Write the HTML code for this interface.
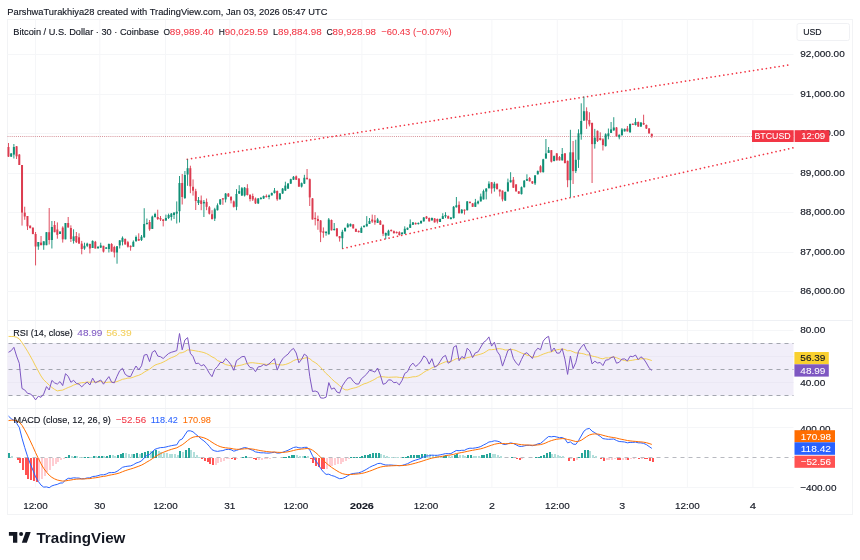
<!DOCTYPE html>
<html><head><meta charset="utf-8"><title>BTCUSD chart</title>
<style>html,body{margin:0;padding:0;background:#fff;width:860px;height:560px;overflow:hidden}
body{position:relative;font-family:"Liberation Sans", Arial, sans-serif}</style></head>
<body>
<svg width="860" height="560" viewBox="0 0 860 560" style="position:absolute;left:0;top:0"><rect x="7.5" y="19.5" width="845.0" height="495.0" fill="#fff" stroke="#f2f3f5" stroke-width="1"/><line x1="35.5" y1="19.5" x2="35.5" y2="487.5" stroke="#f5f6f8" stroke-width="1"/><line x1="99.8" y1="19.5" x2="99.8" y2="487.5" stroke="#f5f6f8" stroke-width="1"/><line x1="165.5" y1="19.5" x2="165.5" y2="487.5" stroke="#f5f6f8" stroke-width="1"/><line x1="229.8" y1="19.5" x2="229.8" y2="487.5" stroke="#f5f6f8" stroke-width="1"/><line x1="295.8" y1="19.5" x2="295.8" y2="487.5" stroke="#f5f6f8" stroke-width="1"/><line x1="361.9" y1="19.5" x2="361.9" y2="487.5" stroke="#f5f6f8" stroke-width="1"/><line x1="426.0" y1="19.5" x2="426.0" y2="487.5" stroke="#f5f6f8" stroke-width="1"/><line x1="491.9" y1="19.5" x2="491.9" y2="487.5" stroke="#f5f6f8" stroke-width="1"/><line x1="557.3" y1="19.5" x2="557.3" y2="487.5" stroke="#f5f6f8" stroke-width="1"/><line x1="622.2" y1="19.5" x2="622.2" y2="487.5" stroke="#f5f6f8" stroke-width="1"/><line x1="687.4" y1="19.5" x2="687.4" y2="487.5" stroke="#f5f6f8" stroke-width="1"/><line x1="752.9" y1="19.5" x2="752.9" y2="487.5" stroke="#f5f6f8" stroke-width="1"/><line x1="7.5" y1="291.5" x2="793.5" y2="291.5" stroke="#f5f6f8" stroke-width="1"/><line x1="7.5" y1="252.5" x2="793.5" y2="252.5" stroke="#f5f6f8" stroke-width="1"/><line x1="7.5" y1="212.5" x2="793.5" y2="212.5" stroke="#f5f6f8" stroke-width="1"/><line x1="7.5" y1="173.5" x2="793.5" y2="173.5" stroke="#f5f6f8" stroke-width="1"/><line x1="7.5" y1="133.5" x2="793.5" y2="133.5" stroke="#f5f6f8" stroke-width="1"/><line x1="7.5" y1="94.5" x2="793.5" y2="94.5" stroke="#f5f6f8" stroke-width="1"/><line x1="7.5" y1="54.5" x2="793.5" y2="54.5" stroke="#f5f6f8" stroke-width="1"/><line x1="7.5" y1="320.5" x2="852.5" y2="320.5" stroke="#eef0f4" stroke-width="1"/><line x1="7.5" y1="408.5" x2="852.5" y2="408.5" stroke="#eef0f4" stroke-width="1"/><line x1="7.5" y1="487.5" x2="793.5" y2="487.5" stroke="#f3f4f7" stroke-width="1"/><rect x="7.5" y="343.1" width="786.0" height="52.5" fill="#f1eef9"/><line x1="7.5" y1="330.5" x2="793.5" y2="330.5" stroke="#f5f6f8" stroke-width="1"/><line x1="7.5" y1="356.5" x2="793.5" y2="356.5" stroke="#ebe8f4" stroke-width="1"/><line x1="7.5" y1="382.5" x2="793.5" y2="382.5" stroke="#ebe8f4" stroke-width="1"/><line x1="7.5" y1="343.5" x2="793.5" y2="343.5" stroke="#a3a6af" stroke-width="1" stroke-dasharray="4 4" stroke-dashoffset="-1"/><line x1="7.5" y1="369.5" x2="793.5" y2="369.5" stroke="#a3a6af" stroke-width="1" stroke-dasharray="4 4" stroke-dashoffset="-1"/><line x1="7.5" y1="395.5" x2="793.5" y2="395.5" stroke="#a3a6af" stroke-width="1" stroke-dasharray="4 4" stroke-dashoffset="-1"/><line x1="7.5" y1="427.5" x2="793.5" y2="427.5" stroke="#f5f6f8" stroke-width="1"/><line x1="7.5" y1="487.5" x2="793.5" y2="487.5" stroke="#f5f6f8" stroke-width="1"/><line x1="7.5" y1="457.5" x2="793.5" y2="457.5" stroke="#b8bac1" stroke-width="1" stroke-dasharray="4 4" stroke-dashoffset="-1"/><line x1="7.5" y1="136.5" x2="793.5" y2="136.5" stroke="#c8707a" stroke-width="1" stroke-dasharray="1 1.1" opacity="0.75"/><line x1="187.3" y1="159.3" x2="791.4" y2="64.6" stroke="#f23645" stroke-width="1.7" stroke-dasharray="0.01 4.3" stroke-linecap="round"/><line x1="342.8" y1="248.5" x2="792.9" y2="147.9" stroke="#f23645" stroke-width="1.7" stroke-dasharray="0.01 4.3" stroke-linecap="round"/><g><rect x="10.72" y="153.0" width="0.9" height="4.0" fill="#0f8f76"/><rect x="10.17" y="153.5" width="2" height="3.1" fill="#0f8f76"/><rect x="13.43" y="144.0" width="0.9" height="14.5" fill="#0f8f76"/><rect x="12.88" y="147.0" width="2" height="7.6" fill="#0f8f76"/><rect x="37.86" y="242.0" width="0.9" height="7.8" fill="#0f8f76"/><rect x="37.31" y="242.0" width="2" height="4.5" fill="#0f8f76"/><rect x="43.29" y="241.3" width="0.9" height="8.5" fill="#0f8f76"/><rect x="42.74" y="241.3" width="2" height="3.9" fill="#0f8f76"/><rect x="46.01" y="232.2" width="0.9" height="13.0" fill="#0f8f76"/><rect x="45.46" y="232.2" width="2" height="13.0" fill="#0f8f76"/><rect x="51.44" y="221.0" width="0.9" height="27.5" fill="#0f8f76"/><rect x="50.89" y="227.0" width="2" height="13.0" fill="#0f8f76"/><rect x="59.58" y="231.5" width="0.9" height="2.5" fill="#0f8f76"/><rect x="59.03" y="231.5" width="2" height="2.5" fill="#0f8f76"/><rect x="65.01" y="223.0" width="0.9" height="16.3" fill="#0f8f76"/><rect x="64.46" y="223.0" width="2" height="16.3" fill="#0f8f76"/><rect x="73.15" y="229.3" width="0.9" height="14.3" fill="#0f8f76"/><rect x="72.60" y="236.4" width="2" height="4.5" fill="#0f8f76"/><rect x="84.01" y="242.7" width="0.9" height="7.1" fill="#0f8f76"/><rect x="83.46" y="245.8" width="2" height="2.7" fill="#0f8f76"/><rect x="86.73" y="242.7" width="0.9" height="4.4" fill="#0f8f76"/><rect x="86.18" y="243.6" width="2" height="2.2" fill="#0f8f76"/><rect x="92.15" y="240.4" width="0.9" height="7.6" fill="#0f8f76"/><rect x="91.60" y="240.9" width="2" height="7.1" fill="#0f8f76"/><rect x="97.58" y="246.0" width="0.9" height="3.0" fill="#0f8f76"/><rect x="97.03" y="246.9" width="2" height="1.2" fill="#0f8f76"/><rect x="100.30" y="242.7" width="0.9" height="5.3" fill="#0f8f76"/><rect x="99.75" y="245.4" width="2" height="2.2" fill="#0f8f76"/><rect x="105.73" y="247.0" width="0.9" height="2.0" fill="#0f8f76"/><rect x="105.18" y="247.5" width="2" height="1.2" fill="#0f8f76"/><rect x="108.44" y="243.5" width="0.9" height="9.0" fill="#0f8f76"/><rect x="107.89" y="244.0" width="2" height="5.0" fill="#0f8f76"/><rect x="116.58" y="246.0" width="0.9" height="17.7" fill="#0f8f76"/><rect x="116.03" y="246.3" width="2" height="6.2" fill="#0f8f76"/><rect x="119.30" y="240.0" width="0.9" height="8.5" fill="#0f8f76"/><rect x="118.75" y="240.4" width="2" height="5.0" fill="#0f8f76"/><rect x="122.01" y="236.4" width="0.9" height="9.0" fill="#0f8f76"/><rect x="121.46" y="237.8" width="2" height="4.0" fill="#0f8f76"/><rect x="132.87" y="240.4" width="0.9" height="6.3" fill="#0f8f76"/><rect x="132.32" y="241.8" width="2" height="4.9" fill="#0f8f76"/><rect x="135.59" y="235.5" width="0.9" height="6.5" fill="#0f8f76"/><rect x="135.04" y="237.0" width="2" height="4.0" fill="#0f8f76"/><rect x="141.02" y="235.0" width="0.9" height="6.0" fill="#0f8f76"/><rect x="140.47" y="236.7" width="2" height="3.4" fill="#0f8f76"/><rect x="143.73" y="208.2" width="0.9" height="29.8" fill="#0f8f76"/><rect x="143.18" y="224.0" width="2" height="13.2" fill="#0f8f76"/><rect x="146.44" y="218.5" width="0.9" height="6.0" fill="#0f8f76"/><rect x="145.89" y="222.9" width="2" height="1.2" fill="#0f8f76"/><rect x="151.87" y="215.6" width="0.9" height="13.4" fill="#0f8f76"/><rect x="151.32" y="216.6" width="2" height="12.3" fill="#0f8f76"/><rect x="154.59" y="212.7" width="0.9" height="4.9" fill="#0f8f76"/><rect x="154.04" y="214.0" width="2" height="3.0" fill="#0f8f76"/><rect x="165.45" y="214.6" width="0.9" height="6.4" fill="#0f8f76"/><rect x="164.90" y="218.0" width="2" height="2.5" fill="#0f8f76"/><rect x="168.16" y="213.6" width="0.9" height="5.4" fill="#0f8f76"/><rect x="167.61" y="215.0" width="2" height="3.0" fill="#0f8f76"/><rect x="170.88" y="213.0" width="0.9" height="7.5" fill="#0f8f76"/><rect x="170.32" y="213.6" width="2" height="3.4" fill="#0f8f76"/><rect x="173.59" y="212.0" width="0.9" height="7.0" fill="#0f8f76"/><rect x="173.04" y="212.7" width="2" height="2.3" fill="#0f8f76"/><rect x="176.30" y="201.4" width="0.9" height="22.1" fill="#0f8f76"/><rect x="175.75" y="211.7" width="2" height="1.9" fill="#0f8f76"/><rect x="179.02" y="176.0" width="0.9" height="46.5" fill="#0f8f76"/><rect x="178.47" y="183.0" width="2" height="28.2" fill="#0f8f76"/><rect x="184.45" y="171.0" width="0.9" height="28.0" fill="#0f8f76"/><rect x="183.90" y="175.0" width="2" height="23.0" fill="#0f8f76"/><rect x="187.16" y="159.3" width="0.9" height="26.5" fill="#0f8f76"/><rect x="186.61" y="168.2" width="2" height="6.3" fill="#0f8f76"/><rect x="198.02" y="197.0" width="0.9" height="8.0" fill="#0f8f76"/><rect x="197.47" y="200.0" width="2" height="3.0" fill="#0f8f76"/><rect x="203.45" y="200.0" width="0.9" height="17.0" fill="#0f8f76"/><rect x="202.90" y="201.9" width="2" height="1.5" fill="#0f8f76"/><rect x="214.31" y="207.8" width="0.9" height="13.2" fill="#0f8f76"/><rect x="213.76" y="209.3" width="2" height="9.3" fill="#0f8f76"/><rect x="217.02" y="203.4" width="0.9" height="7.1" fill="#0f8f76"/><rect x="216.47" y="205.3" width="2" height="4.9" fill="#0f8f76"/><rect x="219.74" y="199.0" width="0.9" height="6.0" fill="#0f8f76"/><rect x="219.19" y="199.4" width="2" height="4.9" fill="#0f8f76"/><rect x="225.17" y="193.0" width="0.9" height="9.4" fill="#0f8f76"/><rect x="224.62" y="193.6" width="2" height="5.8" fill="#0f8f76"/><rect x="236.02" y="189.1" width="0.9" height="21.1" fill="#0f8f76"/><rect x="235.47" y="194.0" width="2" height="12.8" fill="#0f8f76"/><rect x="238.74" y="185.2" width="0.9" height="8.8" fill="#0f8f76"/><rect x="238.19" y="191.1" width="2" height="2.5" fill="#0f8f76"/><rect x="241.45" y="187.0" width="0.9" height="9.0" fill="#0f8f76"/><rect x="240.90" y="188.2" width="2" height="7.3" fill="#0f8f76"/><rect x="244.17" y="187.0" width="0.9" height="9.5" fill="#0f8f76"/><rect x="243.62" y="187.7" width="2" height="7.8" fill="#0f8f76"/><rect x="257.74" y="198.0" width="0.9" height="6.0" fill="#0f8f76"/><rect x="257.19" y="198.5" width="2" height="4.9" fill="#0f8f76"/><rect x="260.45" y="197.0" width="0.9" height="2.5" fill="#0f8f76"/><rect x="259.90" y="197.9" width="2" height="1.2" fill="#0f8f76"/><rect x="263.17" y="195.5" width="0.9" height="3.5" fill="#0f8f76"/><rect x="262.62" y="196.0" width="2" height="2.5" fill="#0f8f76"/><rect x="268.60" y="194.5" width="0.9" height="4.8" fill="#0f8f76"/><rect x="268.05" y="195.4" width="2" height="1.6" fill="#0f8f76"/><rect x="271.31" y="192.5" width="0.9" height="3.0" fill="#0f8f76"/><rect x="270.76" y="193.0" width="2" height="2.4" fill="#0f8f76"/><rect x="274.03" y="188.0" width="0.9" height="5.5" fill="#0f8f76"/><rect x="273.48" y="190.5" width="2" height="2.5" fill="#0f8f76"/><rect x="279.46" y="193.0" width="0.9" height="6.5" fill="#0f8f76"/><rect x="278.91" y="193.5" width="2" height="5.8" fill="#0f8f76"/><rect x="282.17" y="188.0" width="0.9" height="6.0" fill="#0f8f76"/><rect x="281.62" y="188.6" width="2" height="4.9" fill="#0f8f76"/><rect x="284.88" y="181.7" width="0.9" height="9.3" fill="#0f8f76"/><rect x="284.33" y="185.6" width="2" height="4.9" fill="#0f8f76"/><rect x="287.60" y="183.0" width="0.9" height="6.0" fill="#0f8f76"/><rect x="287.05" y="183.6" width="2" height="5.0" fill="#0f8f76"/><rect x="290.31" y="178.7" width="0.9" height="5.3" fill="#0f8f76"/><rect x="289.76" y="179.2" width="2" height="4.4" fill="#0f8f76"/><rect x="293.03" y="176.0" width="0.9" height="4.0" fill="#0f8f76"/><rect x="292.48" y="176.8" width="2" height="2.9" fill="#0f8f76"/><rect x="301.17" y="182.5" width="0.9" height="5.0" fill="#0f8f76"/><rect x="300.62" y="183.2" width="2" height="3.4" fill="#0f8f76"/><rect x="303.89" y="174.8" width="0.9" height="9.2" fill="#0f8f76"/><rect x="303.34" y="177.8" width="2" height="5.8" fill="#0f8f76"/><rect x="325.60" y="231.0" width="0.9" height="4.7" fill="#0f8f76"/><rect x="325.05" y="231.9" width="2" height="1.2" fill="#0f8f76"/><rect x="328.32" y="218.0" width="0.9" height="16.5" fill="#0f8f76"/><rect x="327.77" y="219.5" width="2" height="14.8" fill="#0f8f76"/><rect x="333.75" y="223.0" width="0.9" height="7.5" fill="#0f8f76"/><rect x="333.20" y="228.9" width="2" height="1.2" fill="#0f8f76"/><rect x="341.89" y="229.8" width="0.9" height="18.7" fill="#0f8f76"/><rect x="341.34" y="231.8" width="2" height="6.4" fill="#0f8f76"/><rect x="344.60" y="227.5" width="0.9" height="4.0" fill="#0f8f76"/><rect x="344.05" y="227.9" width="2" height="3.4" fill="#0f8f76"/><rect x="347.32" y="223.0" width="0.9" height="4.5" fill="#0f8f76"/><rect x="346.77" y="224.4" width="2" height="3.0" fill="#0f8f76"/><rect x="350.03" y="223.5" width="0.9" height="3.0" fill="#0f8f76"/><rect x="349.48" y="223.9" width="2" height="2.5" fill="#0f8f76"/><rect x="360.89" y="226.4" width="0.9" height="6.6" fill="#0f8f76"/><rect x="360.34" y="227.9" width="2" height="4.9" fill="#0f8f76"/><rect x="363.60" y="225.0" width="0.9" height="2.5" fill="#0f8f76"/><rect x="363.05" y="225.9" width="2" height="1.2" fill="#0f8f76"/><rect x="366.32" y="216.1" width="0.9" height="10.4" fill="#0f8f76"/><rect x="365.77" y="223.9" width="2" height="2.5" fill="#0f8f76"/><rect x="369.03" y="218.0" width="0.9" height="6.0" fill="#0f8f76"/><rect x="368.48" y="221.0" width="2" height="2.9" fill="#0f8f76"/><rect x="377.18" y="217.9" width="0.9" height="5.1" fill="#0f8f76"/><rect x="376.63" y="219.4" width="2" height="3.5" fill="#0f8f76"/><rect x="385.32" y="232.5" width="0.9" height="6.5" fill="#0f8f76"/><rect x="384.77" y="233.0" width="2" height="2.6" fill="#0f8f76"/><rect x="388.04" y="229.7" width="0.9" height="5.9" fill="#0f8f76"/><rect x="387.49" y="230.7" width="2" height="4.9" fill="#0f8f76"/><rect x="401.61" y="232.0" width="0.9" height="2.5" fill="#0f8f76"/><rect x="401.06" y="232.7" width="2" height="1.5" fill="#0f8f76"/><rect x="404.32" y="226.3" width="0.9" height="7.7" fill="#0f8f76"/><rect x="403.77" y="228.8" width="2" height="4.9" fill="#0f8f76"/><rect x="407.04" y="227.5" width="0.9" height="2.5" fill="#0f8f76"/><rect x="406.49" y="227.8" width="2" height="1.9" fill="#0f8f76"/><rect x="409.75" y="219.4" width="0.9" height="8.6" fill="#0f8f76"/><rect x="409.20" y="224.3" width="2" height="3.5" fill="#0f8f76"/><rect x="412.47" y="222.0" width="0.9" height="3.0" fill="#0f8f76"/><rect x="411.92" y="222.4" width="2" height="2.4" fill="#0f8f76"/><rect x="417.89" y="222.5" width="0.9" height="2.0" fill="#0f8f76"/><rect x="417.34" y="222.9" width="2" height="1.2" fill="#0f8f76"/><rect x="420.61" y="220.5" width="0.9" height="3.0" fill="#0f8f76"/><rect x="420.06" y="220.9" width="2" height="2.5" fill="#0f8f76"/><rect x="423.32" y="217.0" width="0.9" height="4.5" fill="#0f8f76"/><rect x="422.77" y="217.5" width="2" height="3.9" fill="#0f8f76"/><rect x="431.47" y="217.5" width="0.9" height="3.0" fill="#0f8f76"/><rect x="430.92" y="218.0" width="2" height="2.4" fill="#0f8f76"/><rect x="439.61" y="218.5" width="0.9" height="3.5" fill="#0f8f76"/><rect x="439.06" y="219.0" width="2" height="3.0" fill="#0f8f76"/><rect x="442.33" y="213.2" width="0.9" height="5.8" fill="#0f8f76"/><rect x="441.78" y="216.1" width="2" height="2.9" fill="#0f8f76"/><rect x="445.04" y="212.2" width="0.9" height="5.9" fill="#0f8f76"/><rect x="444.49" y="215.0" width="2" height="1.5" fill="#0f8f76"/><rect x="450.47" y="217.0" width="0.9" height="2.5" fill="#0f8f76"/><rect x="449.92" y="217.6" width="2" height="1.4" fill="#0f8f76"/><rect x="453.18" y="206.0" width="0.9" height="12.5" fill="#0f8f76"/><rect x="452.63" y="206.8" width="2" height="11.3" fill="#0f8f76"/><rect x="455.90" y="197.0" width="0.9" height="10.5" fill="#0f8f76"/><rect x="455.35" y="205.3" width="2" height="2.0" fill="#0f8f76"/><rect x="461.33" y="209.0" width="0.9" height="4.5" fill="#0f8f76"/><rect x="460.78" y="209.7" width="2" height="3.5" fill="#0f8f76"/><rect x="466.76" y="201.0" width="0.9" height="9.5" fill="#0f8f76"/><rect x="466.21" y="201.4" width="2" height="8.8" fill="#0f8f76"/><rect x="474.90" y="198.9" width="0.9" height="8.1" fill="#0f8f76"/><rect x="474.35" y="202.4" width="2" height="4.4" fill="#0f8f76"/><rect x="477.61" y="200.5" width="0.9" height="3.9" fill="#0f8f76"/><rect x="477.06" y="201.4" width="2" height="2.0" fill="#0f8f76"/><rect x="480.33" y="193.6" width="0.9" height="7.9" fill="#0f8f76"/><rect x="479.78" y="196.5" width="2" height="4.9" fill="#0f8f76"/><rect x="483.04" y="189.6" width="0.9" height="9.9" fill="#0f8f76"/><rect x="482.49" y="191.1" width="2" height="8.3" fill="#0f8f76"/><rect x="485.76" y="188.0" width="0.9" height="11.4" fill="#0f8f76"/><rect x="485.21" y="188.6" width="2" height="3.0" fill="#0f8f76"/><rect x="488.47" y="181.3" width="0.9" height="7.2" fill="#0f8f76"/><rect x="487.92" y="183.7" width="2" height="4.5" fill="#0f8f76"/><rect x="493.90" y="181.8" width="0.9" height="9.8" fill="#0f8f76"/><rect x="493.35" y="183.7" width="2" height="4.5" fill="#0f8f76"/><rect x="504.76" y="191.5" width="0.9" height="9.5" fill="#0f8f76"/><rect x="504.21" y="192.0" width="2" height="8.5" fill="#0f8f76"/><rect x="507.47" y="178.6" width="0.9" height="12.9" fill="#0f8f76"/><rect x="506.92" y="182.3" width="2" height="9.1" fill="#0f8f76"/><rect x="510.19" y="172.2" width="0.9" height="10.3" fill="#0f8f76"/><rect x="509.64" y="180.2" width="2" height="2.1" fill="#0f8f76"/><rect x="521.05" y="186.5" width="0.9" height="8.0" fill="#0f8f76"/><rect x="520.50" y="187.2" width="2" height="6.9" fill="#0f8f76"/><rect x="523.76" y="180.0" width="0.9" height="7.5" fill="#0f8f76"/><rect x="523.21" y="180.7" width="2" height="6.5" fill="#0f8f76"/><rect x="526.47" y="174.3" width="0.9" height="6.7" fill="#0f8f76"/><rect x="525.92" y="179.1" width="2" height="1.6" fill="#0f8f76"/><rect x="534.62" y="175.0" width="0.9" height="10.0" fill="#0f8f76"/><rect x="534.07" y="175.4" width="2" height="8.0" fill="#0f8f76"/><rect x="537.33" y="170.5" width="0.9" height="4.0" fill="#0f8f76"/><rect x="536.78" y="171.1" width="2" height="3.2" fill="#0f8f76"/><rect x="542.76" y="158.8" width="0.9" height="13.7" fill="#0f8f76"/><rect x="542.21" y="159.3" width="2" height="12.9" fill="#0f8f76"/><rect x="545.48" y="139.0" width="0.9" height="19.8" fill="#0f8f76"/><rect x="544.93" y="153.4" width="2" height="5.1" fill="#0f8f76"/><rect x="548.19" y="147.0" width="0.9" height="6.0" fill="#0f8f76"/><rect x="547.64" y="150.2" width="2" height="2.7" fill="#0f8f76"/><rect x="553.62" y="155.5" width="0.9" height="5.9" fill="#0f8f76"/><rect x="553.07" y="156.1" width="2" height="4.9" fill="#0f8f76"/><rect x="561.76" y="148.0" width="0.9" height="12.5" fill="#0f8f76"/><rect x="561.21" y="154.0" width="2" height="6.4" fill="#0f8f76"/><rect x="569.91" y="129.8" width="0.9" height="67.5" fill="#0f8f76"/><rect x="569.36" y="152.3" width="2" height="27.9" fill="#0f8f76"/><rect x="575.34" y="139.7" width="0.9" height="33.3" fill="#0f8f76"/><rect x="574.79" y="159.8" width="2" height="11.3" fill="#0f8f76"/><rect x="578.05" y="129.3" width="0.9" height="38.6" fill="#0f8f76"/><rect x="577.50" y="133.3" width="2" height="26.5" fill="#0f8f76"/><rect x="580.76" y="103.3" width="0.9" height="36.4" fill="#0f8f76"/><rect x="580.21" y="121.0" width="2" height="13.3" fill="#0f8f76"/><rect x="583.48" y="96.5" width="0.9" height="24.5" fill="#0f8f76"/><rect x="582.93" y="111.2" width="2" height="9.3" fill="#0f8f76"/><rect x="594.34" y="128.9" width="0.9" height="19.7" fill="#0f8f76"/><rect x="593.79" y="137.7" width="2" height="6.4" fill="#0f8f76"/><rect x="605.20" y="133.3" width="0.9" height="13.2" fill="#0f8f76"/><rect x="604.65" y="134.3" width="2" height="11.8" fill="#0f8f76"/><rect x="607.91" y="128.5" width="0.9" height="10.8" fill="#0f8f76"/><rect x="607.36" y="133.4" width="2" height="2.9" fill="#0f8f76"/><rect x="610.62" y="122.0" width="0.9" height="11.0" fill="#0f8f76"/><rect x="610.07" y="129.4" width="2" height="3.5" fill="#0f8f76"/><rect x="613.34" y="117.2" width="0.9" height="13.6" fill="#0f8f76"/><rect x="612.79" y="127.5" width="2" height="2.9" fill="#0f8f76"/><rect x="618.77" y="134.3" width="0.9" height="5.0" fill="#0f8f76"/><rect x="618.22" y="134.8" width="2" height="2.5" fill="#0f8f76"/><rect x="621.48" y="128.0" width="0.9" height="7.5" fill="#0f8f76"/><rect x="620.93" y="129.4" width="2" height="5.9" fill="#0f8f76"/><rect x="624.20" y="128.5" width="0.9" height="3.0" fill="#0f8f76"/><rect x="623.65" y="129.0" width="2" height="2.4" fill="#0f8f76"/><rect x="629.63" y="123.5" width="0.9" height="9.0" fill="#0f8f76"/><rect x="629.08" y="124.0" width="2" height="8.4" fill="#0f8f76"/><rect x="635.05" y="118.2" width="0.9" height="7.3" fill="#0f8f76"/><rect x="634.50" y="122.0" width="2" height="3.0" fill="#0f8f76"/><rect x="640.48" y="122.0" width="0.9" height="5.0" fill="#0f8f76"/><rect x="639.93" y="122.6" width="2" height="3.9" fill="#0f8f76"/><rect x="8.00" y="143.0" width="0.9" height="14.0" fill="#dc3c50"/><rect x="7.45" y="147.0" width="2" height="9.6" fill="#dc3c50"/><rect x="16.15" y="146.0" width="0.9" height="13.0" fill="#dc3c50"/><rect x="15.60" y="146.3" width="2" height="10.0" fill="#dc3c50"/><rect x="18.86" y="154.0" width="0.9" height="11.0" fill="#dc3c50"/><rect x="18.31" y="154.6" width="2" height="10.4" fill="#dc3c50"/><rect x="21.58" y="165.0" width="0.9" height="60.6" fill="#dc3c50"/><rect x="21.03" y="165.0" width="2" height="47.6" fill="#dc3c50"/><rect x="24.29" y="206.7" width="0.9" height="13.1" fill="#dc3c50"/><rect x="23.74" y="212.6" width="2" height="3.9" fill="#dc3c50"/><rect x="27.01" y="216.0" width="0.9" height="14.0" fill="#dc3c50"/><rect x="26.46" y="216.0" width="2" height="10.3" fill="#dc3c50"/><rect x="29.72" y="225.6" width="0.9" height="2.6" fill="#dc3c50"/><rect x="29.17" y="225.6" width="2" height="2.6" fill="#dc3c50"/><rect x="32.44" y="227.6" width="0.9" height="6.5" fill="#dc3c50"/><rect x="31.89" y="227.6" width="2" height="6.5" fill="#dc3c50"/><rect x="35.15" y="232.0" width="0.9" height="33.4" fill="#dc3c50"/><rect x="34.60" y="234.0" width="2" height="12.5" fill="#dc3c50"/><rect x="40.58" y="236.0" width="0.9" height="9.2" fill="#dc3c50"/><rect x="40.03" y="242.6" width="2" height="2.6" fill="#dc3c50"/><rect x="48.72" y="208.0" width="0.9" height="36.5" fill="#dc3c50"/><rect x="48.17" y="232.2" width="2" height="7.8" fill="#dc3c50"/><rect x="54.15" y="221.0" width="0.9" height="11.2" fill="#dc3c50"/><rect x="53.60" y="225.0" width="2" height="7.2" fill="#dc3c50"/><rect x="56.87" y="222.4" width="0.9" height="16.3" fill="#dc3c50"/><rect x="56.32" y="229.5" width="2" height="5.3" fill="#dc3c50"/><rect x="62.30" y="226.3" width="0.9" height="16.3" fill="#dc3c50"/><rect x="61.75" y="227.6" width="2" height="11.7" fill="#dc3c50"/><rect x="67.72" y="217.0" width="0.9" height="10.5" fill="#dc3c50"/><rect x="67.17" y="223.0" width="2" height="4.5" fill="#dc3c50"/><rect x="70.44" y="225.3" width="0.9" height="16.7" fill="#dc3c50"/><rect x="69.89" y="228.0" width="2" height="11.0" fill="#dc3c50"/><rect x="75.87" y="232.0" width="0.9" height="11.0" fill="#dc3c50"/><rect x="75.32" y="236.0" width="2" height="6.2" fill="#dc3c50"/><rect x="78.58" y="233.3" width="0.9" height="10.3" fill="#dc3c50"/><rect x="78.03" y="237.3" width="2" height="6.3" fill="#dc3c50"/><rect x="81.30" y="240.9" width="0.9" height="13.4" fill="#dc3c50"/><rect x="80.75" y="243.6" width="2" height="5.4" fill="#dc3c50"/><rect x="89.44" y="243.6" width="0.9" height="9.8" fill="#dc3c50"/><rect x="88.89" y="244.0" width="2" height="4.5" fill="#dc3c50"/><rect x="94.87" y="240.9" width="0.9" height="7.6" fill="#dc3c50"/><rect x="94.32" y="241.8" width="2" height="6.7" fill="#dc3c50"/><rect x="103.01" y="245.8" width="0.9" height="6.7" fill="#dc3c50"/><rect x="102.46" y="245.8" width="2" height="5.8" fill="#dc3c50"/><rect x="111.16" y="243.1" width="0.9" height="8.5" fill="#dc3c50"/><rect x="110.61" y="244.0" width="2" height="7.6" fill="#dc3c50"/><rect x="113.87" y="245.8" width="0.9" height="11.6" fill="#dc3c50"/><rect x="113.32" y="247.0" width="2" height="5.5" fill="#dc3c50"/><rect x="124.73" y="238.4" width="0.9" height="6.1" fill="#dc3c50"/><rect x="124.18" y="239.0" width="2" height="5.5" fill="#dc3c50"/><rect x="127.44" y="240.9" width="0.9" height="6.7" fill="#dc3c50"/><rect x="126.89" y="242.2" width="2" height="4.5" fill="#dc3c50"/><rect x="130.16" y="245.4" width="0.9" height="5.3" fill="#dc3c50"/><rect x="129.61" y="245.8" width="2" height="1.4" fill="#dc3c50"/><rect x="138.30" y="233.3" width="0.9" height="7.7" fill="#dc3c50"/><rect x="137.75" y="239.0" width="2" height="1.6" fill="#dc3c50"/><rect x="149.16" y="220.0" width="0.9" height="10.8" fill="#dc3c50"/><rect x="148.61" y="222.0" width="2" height="7.3" fill="#dc3c50"/><rect x="157.30" y="209.7" width="0.9" height="10.3" fill="#dc3c50"/><rect x="156.75" y="217.0" width="2" height="2.0" fill="#dc3c50"/><rect x="160.02" y="216.0" width="0.9" height="5.0" fill="#dc3c50"/><rect x="159.47" y="218.0" width="2" height="1.5" fill="#dc3c50"/><rect x="162.73" y="219.0" width="0.9" height="7.4" fill="#dc3c50"/><rect x="162.18" y="219.5" width="2" height="1.5" fill="#dc3c50"/><rect x="181.73" y="174.0" width="0.9" height="30.5" fill="#dc3c50"/><rect x="181.18" y="183.0" width="2" height="14.0" fill="#dc3c50"/><rect x="189.88" y="165.7" width="0.9" height="27.5" fill="#dc3c50"/><rect x="189.33" y="168.2" width="2" height="18.1" fill="#dc3c50"/><rect x="192.59" y="179.4" width="0.9" height="16.2" fill="#dc3c50"/><rect x="192.04" y="186.8" width="2" height="3.9" fill="#dc3c50"/><rect x="195.31" y="188.8" width="0.9" height="21.2" fill="#dc3c50"/><rect x="194.76" y="191.2" width="2" height="9.8" fill="#dc3c50"/><rect x="200.73" y="195.5" width="0.9" height="14.7" fill="#dc3c50"/><rect x="200.18" y="200.4" width="2" height="3.5" fill="#dc3c50"/><rect x="206.16" y="198.5" width="0.9" height="11.7" fill="#dc3c50"/><rect x="205.61" y="201.9" width="2" height="4.9" fill="#dc3c50"/><rect x="208.88" y="206.0" width="0.9" height="8.5" fill="#dc3c50"/><rect x="208.33" y="207.3" width="2" height="6.4" fill="#dc3c50"/><rect x="211.59" y="210.2" width="0.9" height="9.4" fill="#dc3c50"/><rect x="211.04" y="214.2" width="2" height="4.8" fill="#dc3c50"/><rect x="222.45" y="198.0" width="0.9" height="6.8" fill="#dc3c50"/><rect x="221.90" y="198.3" width="2" height="1.2" fill="#dc3c50"/><rect x="227.88" y="193.0" width="0.9" height="4.0" fill="#dc3c50"/><rect x="227.33" y="193.6" width="2" height="2.9" fill="#dc3c50"/><rect x="230.59" y="196.0" width="0.9" height="7.4" fill="#dc3c50"/><rect x="230.04" y="197.0" width="2" height="3.4" fill="#dc3c50"/><rect x="233.31" y="200.5" width="0.9" height="7.0" fill="#dc3c50"/><rect x="232.76" y="201.4" width="2" height="5.4" fill="#dc3c50"/><rect x="246.88" y="184.2" width="0.9" height="11.3" fill="#dc3c50"/><rect x="246.33" y="188.2" width="2" height="6.8" fill="#dc3c50"/><rect x="249.60" y="194.0" width="0.9" height="7.4" fill="#dc3c50"/><rect x="249.05" y="195.0" width="2" height="4.0" fill="#dc3c50"/><rect x="252.31" y="193.6" width="0.9" height="7.4" fill="#dc3c50"/><rect x="251.76" y="196.0" width="2" height="3.5" fill="#dc3c50"/><rect x="255.02" y="197.5" width="0.9" height="6.5" fill="#dc3c50"/><rect x="254.47" y="198.5" width="2" height="4.9" fill="#dc3c50"/><rect x="265.88" y="194.4" width="0.9" height="3.1" fill="#dc3c50"/><rect x="265.33" y="195.9" width="2" height="1.2" fill="#dc3c50"/><rect x="276.74" y="190.5" width="0.9" height="10.3" fill="#dc3c50"/><rect x="276.19" y="191.0" width="2" height="8.3" fill="#dc3c50"/><rect x="295.74" y="175.5" width="0.9" height="4.5" fill="#dc3c50"/><rect x="295.19" y="176.3" width="2" height="3.4" fill="#dc3c50"/><rect x="298.46" y="178.0" width="0.9" height="9.0" fill="#dc3c50"/><rect x="297.91" y="178.7" width="2" height="7.9" fill="#dc3c50"/><rect x="306.60" y="169.0" width="0.9" height="10.5" fill="#dc3c50"/><rect x="306.05" y="177.8" width="2" height="1.4" fill="#dc3c50"/><rect x="309.31" y="178.5" width="0.9" height="27.5" fill="#dc3c50"/><rect x="308.76" y="179.2" width="2" height="18.2" fill="#dc3c50"/><rect x="312.03" y="198.0" width="0.9" height="21.5" fill="#dc3c50"/><rect x="311.48" y="198.4" width="2" height="21.1" fill="#dc3c50"/><rect x="314.74" y="212.2" width="0.9" height="13.2" fill="#dc3c50"/><rect x="314.19" y="217.9" width="2" height="1.2" fill="#dc3c50"/><rect x="317.46" y="215.6" width="0.9" height="14.2" fill="#dc3c50"/><rect x="316.91" y="219.0" width="2" height="2.0" fill="#dc3c50"/><rect x="320.17" y="220.0" width="0.9" height="22.1" fill="#dc3c50"/><rect x="319.62" y="220.5" width="2" height="11.8" fill="#dc3c50"/><rect x="322.89" y="227.4" width="0.9" height="10.3" fill="#dc3c50"/><rect x="322.34" y="231.3" width="2" height="1.5" fill="#dc3c50"/><rect x="331.03" y="219.5" width="0.9" height="11.0" fill="#dc3c50"/><rect x="330.48" y="220.0" width="2" height="10.3" fill="#dc3c50"/><rect x="336.46" y="228.0" width="0.9" height="8.5" fill="#dc3c50"/><rect x="335.91" y="228.4" width="2" height="7.8" fill="#dc3c50"/><rect x="339.17" y="236.0" width="0.9" height="5.6" fill="#dc3c50"/><rect x="338.62" y="236.2" width="2" height="2.0" fill="#dc3c50"/><rect x="352.75" y="224.0" width="0.9" height="4.5" fill="#dc3c50"/><rect x="352.20" y="224.4" width="2" height="4.0" fill="#dc3c50"/><rect x="355.46" y="228.5" width="0.9" height="3.5" fill="#dc3c50"/><rect x="354.91" y="228.9" width="2" height="2.9" fill="#dc3c50"/><rect x="358.18" y="230.5" width="0.9" height="2.0" fill="#dc3c50"/><rect x="357.63" y="230.9" width="2" height="1.2" fill="#dc3c50"/><rect x="371.75" y="214.6" width="0.9" height="8.3" fill="#dc3c50"/><rect x="371.20" y="219.5" width="2" height="2.0" fill="#dc3c50"/><rect x="374.46" y="215.0" width="0.9" height="9.8" fill="#dc3c50"/><rect x="373.91" y="220.4" width="2" height="2.0" fill="#dc3c50"/><rect x="379.89" y="220.0" width="0.9" height="5.0" fill="#dc3c50"/><rect x="379.34" y="220.9" width="2" height="3.9" fill="#dc3c50"/><rect x="382.61" y="224.5" width="0.9" height="11.6" fill="#dc3c50"/><rect x="382.06" y="224.8" width="2" height="8.9" fill="#dc3c50"/><rect x="390.75" y="229.5" width="0.9" height="2.0" fill="#dc3c50"/><rect x="390.20" y="229.9" width="2" height="1.2" fill="#dc3c50"/><rect x="393.46" y="230.5" width="0.9" height="3.0" fill="#dc3c50"/><rect x="392.91" y="231.2" width="2" height="2.0" fill="#dc3c50"/><rect x="396.18" y="231.5" width="0.9" height="2.0" fill="#dc3c50"/><rect x="395.63" y="231.9" width="2" height="1.2" fill="#dc3c50"/><rect x="398.89" y="231.2" width="0.9" height="4.3" fill="#dc3c50"/><rect x="398.34" y="232.2" width="2" height="2.9" fill="#dc3c50"/><rect x="415.18" y="222.5" width="0.9" height="2.0" fill="#dc3c50"/><rect x="414.63" y="222.9" width="2" height="1.4" fill="#dc3c50"/><rect x="426.04" y="216.0" width="0.9" height="3.0" fill="#dc3c50"/><rect x="425.49" y="216.5" width="2" height="2.0" fill="#dc3c50"/><rect x="428.75" y="217.5" width="0.9" height="4.0" fill="#dc3c50"/><rect x="428.20" y="218.0" width="2" height="3.4" fill="#dc3c50"/><rect x="434.18" y="218.0" width="0.9" height="4.5" fill="#dc3c50"/><rect x="433.63" y="218.5" width="2" height="3.9" fill="#dc3c50"/><rect x="436.90" y="218.5" width="0.9" height="4.9" fill="#dc3c50"/><rect x="436.35" y="219.0" width="2" height="2.5" fill="#dc3c50"/><rect x="447.75" y="215.5" width="0.9" height="3.1" fill="#dc3c50"/><rect x="447.20" y="216.1" width="2" height="2.5" fill="#dc3c50"/><rect x="458.61" y="201.4" width="0.9" height="12.1" fill="#dc3c50"/><rect x="458.06" y="204.8" width="2" height="8.4" fill="#dc3c50"/><rect x="464.04" y="209.5" width="0.9" height="5.1" fill="#dc3c50"/><rect x="463.49" y="209.6" width="2" height="1.2" fill="#dc3c50"/><rect x="469.47" y="201.5" width="0.9" height="2.0" fill="#dc3c50"/><rect x="468.92" y="201.8" width="2" height="1.2" fill="#dc3c50"/><rect x="472.18" y="203.0" width="0.9" height="4.0" fill="#dc3c50"/><rect x="471.63" y="203.4" width="2" height="3.4" fill="#dc3c50"/><rect x="491.19" y="182.0" width="0.9" height="11.6" fill="#dc3c50"/><rect x="490.64" y="182.3" width="2" height="6.3" fill="#dc3c50"/><rect x="496.62" y="183.5" width="0.9" height="6.0" fill="#dc3c50"/><rect x="496.07" y="183.7" width="2" height="5.4" fill="#dc3c50"/><rect x="499.33" y="189.5" width="0.9" height="7.0" fill="#dc3c50"/><rect x="498.78" y="189.6" width="2" height="2.0" fill="#dc3c50"/><rect x="502.04" y="190.5" width="0.9" height="10.9" fill="#dc3c50"/><rect x="501.49" y="190.6" width="2" height="8.8" fill="#dc3c50"/><rect x="512.90" y="177.0" width="0.9" height="11.0" fill="#dc3c50"/><rect x="512.35" y="179.7" width="2" height="8.0" fill="#dc3c50"/><rect x="515.62" y="184.0" width="0.9" height="7.5" fill="#dc3c50"/><rect x="515.07" y="184.5" width="2" height="6.9" fill="#dc3c50"/><rect x="518.33" y="191.0" width="0.9" height="3.0" fill="#dc3c50"/><rect x="517.78" y="191.4" width="2" height="2.2" fill="#dc3c50"/><rect x="529.19" y="177.0" width="0.9" height="4.5" fill="#dc3c50"/><rect x="528.64" y="178.0" width="2" height="3.3" fill="#dc3c50"/><rect x="531.90" y="181.0" width="0.9" height="3.0" fill="#dc3c50"/><rect x="531.35" y="181.3" width="2" height="2.1" fill="#dc3c50"/><rect x="540.05" y="165.2" width="0.9" height="7.3" fill="#dc3c50"/><rect x="539.50" y="166.3" width="2" height="5.9" fill="#dc3c50"/><rect x="550.90" y="150.0" width="0.9" height="12.5" fill="#dc3c50"/><rect x="550.36" y="150.2" width="2" height="11.5" fill="#dc3c50"/><rect x="556.33" y="153.0" width="0.9" height="7.5" fill="#dc3c50"/><rect x="555.78" y="153.4" width="2" height="7.0" fill="#dc3c50"/><rect x="559.05" y="156.0" width="0.9" height="4.5" fill="#dc3c50"/><rect x="558.50" y="157.1" width="2" height="3.3" fill="#dc3c50"/><rect x="564.48" y="153.0" width="0.9" height="10.5" fill="#dc3c50"/><rect x="563.93" y="153.4" width="2" height="9.6" fill="#dc3c50"/><rect x="567.19" y="160.5" width="0.9" height="26.7" fill="#dc3c50"/><rect x="566.64" y="160.9" width="2" height="19.3" fill="#dc3c50"/><rect x="572.62" y="141.0" width="0.9" height="43.0" fill="#dc3c50"/><rect x="572.07" y="152.3" width="2" height="18.8" fill="#dc3c50"/><rect x="586.19" y="107.3" width="0.9" height="21.6" fill="#dc3c50"/><rect x="585.64" y="111.2" width="2" height="9.3" fill="#dc3c50"/><rect x="588.91" y="112.2" width="0.9" height="14.2" fill="#dc3c50"/><rect x="588.36" y="120.0" width="2" height="4.4" fill="#dc3c50"/><rect x="591.62" y="122.5" width="0.9" height="60.5" fill="#dc3c50"/><rect x="591.07" y="123.0" width="2" height="21.1" fill="#dc3c50"/><rect x="597.05" y="130.5" width="0.9" height="11.5" fill="#dc3c50"/><rect x="596.50" y="130.8" width="2" height="10.3" fill="#dc3c50"/><rect x="599.77" y="132.3" width="0.9" height="8.2" fill="#dc3c50"/><rect x="599.22" y="138.0" width="2" height="2.0" fill="#dc3c50"/><rect x="602.48" y="138.2" width="0.9" height="12.3" fill="#dc3c50"/><rect x="601.93" y="139.3" width="2" height="5.8" fill="#dc3c50"/><rect x="616.05" y="127.0" width="0.9" height="9.5" fill="#dc3c50"/><rect x="615.50" y="127.5" width="2" height="8.8" fill="#dc3c50"/><rect x="626.91" y="126.0" width="0.9" height="5.5" fill="#dc3c50"/><rect x="626.36" y="128.5" width="2" height="2.9" fill="#dc3c50"/><rect x="632.34" y="123.5" width="0.9" height="1.5" fill="#dc3c50"/><rect x="631.79" y="123.7" width="2" height="1.2" fill="#dc3c50"/><rect x="637.77" y="121.5" width="0.9" height="5.5" fill="#dc3c50"/><rect x="637.22" y="122.0" width="2" height="4.5" fill="#dc3c50"/><rect x="643.20" y="114.7" width="0.9" height="10.3" fill="#dc3c50"/><rect x="642.65" y="123.0" width="2" height="1.5" fill="#dc3c50"/><rect x="645.91" y="124.5" width="0.9" height="4.5" fill="#dc3c50"/><rect x="645.36" y="125.0" width="2" height="3.5" fill="#dc3c50"/><rect x="648.63" y="128.0" width="0.9" height="5.5" fill="#dc3c50"/><rect x="648.08" y="128.5" width="2" height="4.9" fill="#dc3c50"/><rect x="651.34" y="133.5" width="0.9" height="4.3" fill="#dc3c50"/><rect x="650.79" y="133.9" width="2" height="2.1" fill="#dc3c50"/></g><polyline points="8.5,336.4 11.2,336.5 13.9,336.5 16.6,337.3 19.3,338.9 22.0,342.6 24.7,346.7 27.5,351.2 30.2,355.9 32.9,360.8 35.6,366.1 38.3,371.1 41.0,376.0 43.7,379.9 46.5,382.4 49.2,385.2 51.9,387.5 54.6,389.4 57.3,390.9 60.0,390.4 62.7,390.1 65.5,388.7 68.2,387.5 70.9,386.5 73.6,385.1 76.3,384.2 79.0,383.2 81.7,382.7 84.5,382.5 87.2,382.0 89.9,382.3 92.6,382.0 95.3,381.9 98.0,381.9 100.7,381.5 103.5,382.2 106.2,382.5 108.9,382.1 111.6,382.2 114.3,382.2 117.0,381.6 119.7,380.5 122.5,379.3 125.2,378.8 127.9,378.1 130.6,378.0 133.3,377.2 136.0,376.1 138.8,375.3 141.5,374.0 144.2,372.2 146.9,370.6 149.6,369.2 152.3,367.0 155.0,365.1 157.8,364.1 160.5,363.3 163.2,362.1 165.9,360.7 168.6,359.1 171.3,357.7 174.0,356.7 176.8,355.3 179.5,353.0 182.2,352.7 184.9,351.6 187.6,349.9 190.3,350.0 193.0,350.4 195.8,350.9 198.5,351.4 201.2,351.9 203.9,352.6 206.6,353.6 209.3,355.1 212.0,356.9 214.8,358.2 217.5,360.6 220.2,361.5 222.9,363.1 225.6,364.6 228.3,365.2 231.0,365.8 233.8,366.2 236.5,366.1 239.2,365.5 241.9,365.0 244.6,364.1 247.3,363.5 250.0,362.8 252.8,362.7 255.5,363.1 258.2,363.4 260.9,363.7 263.6,364.1 266.3,364.4 269.0,364.4 271.8,363.7 274.5,363.6 277.2,364.4 279.9,364.9 282.6,365.0 285.3,364.5 288.0,363.6 290.8,362.3 293.5,360.6 296.2,359.6 298.9,359.4 301.6,359.0 304.3,358.2 307.1,357.6 309.8,358.7 312.5,361.1 315.2,362.6 317.9,364.6 320.6,367.4 323.3,370.4 326.1,373.5 328.8,375.8 331.5,378.7 334.2,381.2 336.9,383.3 339.6,385.7 342.3,388.0 345.1,389.8 347.8,389.9 350.5,388.9 353.2,388.2 355.9,387.6 358.6,386.6 361.3,385.2 364.1,383.8 366.8,383.1 369.5,381.8 372.2,380.6 374.9,379.2 377.6,377.4 380.3,376.6 383.1,376.8 385.8,377.1 388.5,377.3 391.2,377.2 393.9,377.1 396.6,377.0 399.3,377.4 402.1,377.7 404.8,377.7 407.5,377.8 410.2,377.4 412.9,376.8 415.6,376.7 418.3,375.9 421.1,374.3 423.8,372.3 426.5,370.7 429.2,369.6 431.9,367.9 434.6,366.8 437.3,365.4 440.1,364.1 442.8,362.9 445.5,361.8 448.2,361.6 450.9,361.5 453.6,360.1 456.3,358.7 459.1,358.7 461.8,358.8 464.5,358.8 467.2,357.6 469.9,357.1 472.6,356.4 475.3,355.5 478.1,354.8 480.8,354.1 483.5,353.1 486.2,351.5 488.9,349.7 491.6,349.7 494.4,349.4 497.1,348.8 499.8,348.7 502.5,349.2 505.2,350.0 507.9,349.9 510.6,349.3 513.4,349.7 516.1,350.5 518.8,351.8 521.5,353.0 524.2,354.0 526.9,355.1 529.6,355.8 532.4,357.0 535.1,357.0 537.8,356.5 540.5,355.3 543.2,354.1 545.9,353.2 548.6,352.3 551.4,351.8 554.1,350.7 556.8,349.8 559.5,349.4 562.2,349.0 564.9,349.5 567.6,350.8 570.4,350.6 573.1,351.8 575.8,352.9 578.5,353.0 581.2,353.4 583.9,353.9 586.6,354.9 589.4,354.9 592.1,356.1 594.8,356.6 597.5,357.3 600.2,358.3 602.9,358.8 605.6,357.8 608.4,358.0 611.1,357.3 613.8,356.9 616.5,357.7 619.2,358.8 621.9,359.8 624.6,360.5 627.4,361.1 630.1,360.5 632.8,360.2 635.5,359.6 638.2,359.4 640.9,358.8 643.6,358.7 646.4,358.9 649.1,359.6 651.8,360.6" fill="none" stroke="#f4cf55" stroke-width="1" stroke-linejoin="round"/><polyline points="8.5,352.3 11.2,350.7 13.9,347.3 16.6,356.1 19.3,363.3 22.0,388.5 24.7,389.9 27.5,393.3 30.2,393.9 32.9,396.0 35.6,399.9 38.3,396.2 41.0,397.3 43.7,394.0 46.5,386.6 49.2,390.0 51.9,380.4 54.6,382.9 57.3,384.1 60.0,381.6 62.7,385.6 65.5,373.7 68.2,376.3 70.9,382.3 73.6,380.3 76.3,383.4 79.0,384.1 81.7,386.9 84.5,384.1 87.2,382.1 89.9,385.0 92.6,378.1 95.3,382.9 98.0,381.5 100.7,380.0 103.5,384.2 106.2,380.1 108.9,376.6 111.6,382.2 114.3,382.8 117.0,376.3 119.7,370.7 122.5,368.3 125.2,374.3 127.9,376.2 130.6,376.6 133.3,370.8 136.0,366.0 138.8,369.8 141.5,365.8 144.2,355.1 146.9,354.4 149.6,361.6 152.3,352.2 155.0,350.5 157.8,356.1 160.5,356.7 163.2,358.5 165.9,355.9 168.6,353.5 171.3,352.3 174.0,351.5 176.8,350.6 179.5,333.5 182.2,349.8 184.9,340.0 187.6,337.6 190.3,353.2 193.0,356.5 195.8,363.7 198.5,363.1 201.2,365.9 203.9,364.6 206.6,368.3 209.3,373.2 212.0,376.7 214.8,369.3 217.5,366.5 220.2,362.5 222.9,362.5 225.6,358.5 228.3,361.2 231.0,364.8 233.8,370.3 236.5,360.6 239.2,358.7 241.9,356.7 244.6,356.4 247.3,363.7 250.0,367.5 252.8,368.0 255.5,371.7 258.2,366.9 260.9,366.4 263.6,364.5 266.3,365.6 269.0,363.9 271.8,361.3 274.5,358.6 277.2,370.1 279.9,363.7 282.6,358.9 285.3,356.1 288.0,354.2 290.8,350.4 293.5,348.4 296.2,353.0 298.9,362.8 301.6,359.3 304.3,354.1 307.1,356.2 309.8,376.7 312.5,391.5 315.2,391.0 317.9,392.1 320.6,397.9 323.3,398.2 326.1,397.2 328.8,382.6 331.5,389.2 334.2,387.9 336.9,392.0 339.6,393.1 342.3,385.9 345.1,381.7 347.8,378.1 350.5,377.6 353.2,381.3 355.9,383.9 358.6,384.1 361.3,378.9 364.1,376.5 366.8,373.9 369.5,370.3 372.2,370.9 374.9,372.1 377.6,368.0 380.3,375.0 383.1,384.3 385.8,383.3 388.5,379.8 391.2,380.1 393.9,382.7 396.6,382.3 399.3,384.9 402.1,380.3 404.8,373.4 407.5,371.7 410.2,366.0 412.9,363.1 415.6,366.5 418.3,364.4 421.1,361.0 423.8,355.9 426.5,358.1 429.2,364.1 431.9,358.7 434.6,367.2 437.3,365.7 440.1,361.5 442.8,357.1 445.5,355.4 448.2,363.2 450.9,361.5 453.6,347.2 456.3,345.6 459.1,360.7 461.8,356.5 464.5,358.2 467.2,348.2 469.9,350.9 472.6,357.6 475.3,352.9 478.1,351.8 480.8,347.0 483.5,342.4 486.2,340.5 488.9,336.9 491.6,346.1 494.4,342.2 497.1,351.3 499.8,355.2 502.5,366.1 505.2,358.5 507.9,350.5 510.6,348.9 513.4,358.6 516.1,362.9 518.8,365.4 521.5,359.4 524.2,354.0 526.9,352.7 529.6,355.6 532.4,358.5 535.1,351.5 537.8,348.2 540.5,349.8 543.2,341.1 545.9,337.9 548.6,336.3 551.4,351.6 554.1,348.0 556.8,353.1 559.5,353.1 562.2,348.6 564.9,359.1 567.6,374.4 570.4,356.0 573.1,368.6 575.8,362.5 578.5,351.3 581.2,347.2 583.9,344.2 586.6,350.2 589.4,352.7 592.1,363.9 594.8,361.2 597.5,363.0 600.2,362.5 602.9,365.6 605.6,360.2 608.4,359.7 611.1,357.7 613.8,356.7 616.5,363.2 619.2,362.3 621.9,359.1 624.6,358.9 627.4,360.9 630.1,356.2 632.8,356.7 635.5,355.0 638.2,359.6 640.9,356.8 643.6,358.8 646.4,363.0 649.1,367.9 651.8,370.4" fill="none" stroke="#7e57c2" stroke-width="1" stroke-linejoin="round"/><g shape-rendering="crispEdges"><rect x="7.5" y="453.0" width="2" height="4.5" fill="#26a69a"/><rect x="10.5" y="456.0" width="2" height="1.5" fill="#b2dfdb"/><rect x="13.5" y="457.5" width="2" height="0.5" fill="#ff5252"/><rect x="16.5" y="457.5" width="2" height="2.5" fill="#ff5252"/><rect x="18.5" y="457.5" width="2" height="5.2" fill="#ff5252"/><rect x="21.5" y="457.5" width="2" height="12.8" fill="#ff5252"/><rect x="24.5" y="457.5" width="2" height="17.7" fill="#ff5252"/><rect x="26.5" y="457.5" width="2" height="21.2" fill="#ff5252"/><rect x="29.5" y="457.5" width="2" height="22.8" fill="#ff5252"/><rect x="32.5" y="457.5" width="2" height="23.4" fill="#ff5252"/><rect x="35.5" y="457.5" width="2" height="24.2" fill="#ff5252"/><rect x="37.5" y="457.5" width="2" height="23.0" fill="#ffcdd2"/><rect x="40.5" y="457.5" width="2" height="21.3" fill="#ffcdd2"/><rect x="43.5" y="457.5" width="2" height="18.7" fill="#ffcdd2"/><rect x="45.5" y="457.5" width="2" height="14.8" fill="#ffcdd2"/><rect x="48.5" y="457.5" width="2" height="12.4" fill="#ffcdd2"/><rect x="51.5" y="457.5" width="2" height="8.5" fill="#ffcdd2"/><rect x="54.5" y="457.5" width="2" height="6.1" fill="#ffcdd2"/><rect x="56.5" y="457.5" width="2" height="4.4" fill="#ffcdd2"/><rect x="59.5" y="457.5" width="2" height="2.5" fill="#ffcdd2"/><rect x="62.5" y="457.5" width="2" height="1.9" fill="#ffcdd2"/><rect x="64.5" y="456.7" width="2" height="0.8" fill="#26a69a"/><rect x="67.5" y="455.4" width="2" height="2.1" fill="#26a69a"/><rect x="70.5" y="455.9" width="2" height="1.6" fill="#b2dfdb"/><rect x="73.5" y="455.8" width="2" height="1.7" fill="#26a69a"/><rect x="75.5" y="456.3" width="2" height="1.2" fill="#b2dfdb"/><rect x="78.5" y="456.6" width="2" height="0.9" fill="#b2dfdb"/><rect x="81.5" y="457.4" width="2" height="0.5" fill="#b2dfdb"/><rect x="83.5" y="457.3" width="2" height="0.5" fill="#26a69a"/><rect x="86.5" y="456.7" width="2" height="0.8" fill="#26a69a"/><rect x="89.5" y="456.8" width="2" height="0.7" fill="#b2dfdb"/><rect x="92.5" y="455.8" width="2" height="1.7" fill="#26a69a"/><rect x="94.5" y="456.0" width="2" height="1.5" fill="#b2dfdb"/><rect x="97.5" y="455.9" width="2" height="1.6" fill="#26a69a"/><rect x="100.5" y="455.5" width="2" height="2.0" fill="#26a69a"/><rect x="102.5" y="455.9" width="2" height="1.6" fill="#b2dfdb"/><rect x="105.5" y="455.6" width="2" height="1.9" fill="#26a69a"/><rect x="108.5" y="454.9" width="2" height="2.6" fill="#26a69a"/><rect x="111.5" y="455.4" width="2" height="2.1" fill="#b2dfdb"/><rect x="113.5" y="455.7" width="2" height="1.8" fill="#b2dfdb"/><rect x="116.5" y="455.1" width="2" height="2.4" fill="#26a69a"/><rect x="119.5" y="454.0" width="2" height="3.5" fill="#26a69a"/><rect x="121.5" y="453.0" width="2" height="4.5" fill="#26a69a"/><rect x="124.5" y="453.3" width="2" height="4.2" fill="#b2dfdb"/><rect x="127.5" y="453.9" width="2" height="3.6" fill="#b2dfdb"/><rect x="130.5" y="454.4" width="2" height="3.1" fill="#b2dfdb"/><rect x="132.5" y="454.1" width="2" height="3.4" fill="#26a69a"/><rect x="135.5" y="453.4" width="2" height="4.1" fill="#26a69a"/><rect x="138.5" y="453.5" width="2" height="4.0" fill="#b2dfdb"/><rect x="140.5" y="453.3" width="2" height="4.2" fill="#26a69a"/><rect x="143.5" y="451.7" width="2" height="5.8" fill="#26a69a"/><rect x="146.5" y="450.9" width="2" height="6.6" fill="#26a69a"/><rect x="149.5" y="451.4" width="2" height="6.1" fill="#b2dfdb"/><rect x="151.5" y="450.5" width="2" height="7.0" fill="#26a69a"/><rect x="154.5" y="450.0" width="2" height="7.5" fill="#26a69a"/><rect x="157.5" y="450.6" width="2" height="6.9" fill="#b2dfdb"/><rect x="159.5" y="451.5" width="2" height="6.0" fill="#b2dfdb"/><rect x="162.5" y="452.6" width="2" height="4.9" fill="#b2dfdb"/><rect x="165.5" y="453.2" width="2" height="4.3" fill="#b2dfdb"/><rect x="168.5" y="453.5" width="2" height="4.0" fill="#b2dfdb"/><rect x="170.5" y="453.8" width="2" height="3.7" fill="#b2dfdb"/><rect x="173.5" y="454.1" width="2" height="3.4" fill="#b2dfdb"/><rect x="176.5" y="454.5" width="2" height="3.0" fill="#b2dfdb"/><rect x="178.5" y="451.4" width="2" height="6.1" fill="#26a69a"/><rect x="181.5" y="451.7" width="2" height="5.8" fill="#b2dfdb"/><rect x="184.5" y="449.6" width="2" height="7.9" fill="#26a69a"/><rect x="187.5" y="448.0" width="2" height="9.5" fill="#26a69a"/><rect x="189.5" y="449.8" width="2" height="7.7" fill="#b2dfdb"/><rect x="192.5" y="452.1" width="2" height="5.4" fill="#b2dfdb"/><rect x="195.5" y="455.2" width="2" height="2.3" fill="#b2dfdb"/><rect x="197.5" y="457.4" width="2" height="0.5" fill="#b2dfdb"/><rect x="200.5" y="457.5" width="2" height="1.9" fill="#ff5252"/><rect x="203.5" y="457.5" width="2" height="3.0" fill="#ff5252"/><rect x="206.5" y="457.5" width="2" height="4.3" fill="#ff5252"/><rect x="208.5" y="457.5" width="2" height="6.0" fill="#ff5252"/><rect x="211.5" y="457.5" width="2" height="7.4" fill="#ff5252"/><rect x="214.5" y="457.5" width="2" height="7.0" fill="#ffcdd2"/><rect x="216.5" y="457.5" width="2" height="5.9" fill="#ffcdd2"/><rect x="219.5" y="457.5" width="2" height="4.3" fill="#ffcdd2"/><rect x="222.5" y="457.5" width="2" height="3.2" fill="#ffcdd2"/><rect x="225.5" y="457.5" width="2" height="1.8" fill="#ffcdd2"/><rect x="227.5" y="457.5" width="2" height="1.2" fill="#ffcdd2"/><rect x="230.5" y="457.5" width="2" height="1.3" fill="#ff5252"/><rect x="233.5" y="457.5" width="2" height="2.2" fill="#ff5252"/><rect x="235.5" y="457.5" width="2" height="1.1" fill="#ffcdd2"/><rect x="238.5" y="457.5" width="2" height="0.5" fill="#ffcdd2"/><rect x="241.5" y="456.7" width="2" height="0.8" fill="#26a69a"/><rect x="244.5" y="456.2" width="2" height="1.3" fill="#26a69a"/><rect x="246.5" y="456.9" width="2" height="0.6" fill="#b2dfdb"/><rect x="249.5" y="457.5" width="2" height="0.5" fill="#ff5252"/><rect x="252.5" y="457.5" width="2" height="1.3" fill="#ff5252"/><rect x="254.5" y="457.5" width="2" height="2.2" fill="#ff5252"/><rect x="257.5" y="457.5" width="2" height="2.2" fill="#ffcdd2"/><rect x="260.5" y="457.5" width="2" height="2.1" fill="#ffcdd2"/><rect x="263.5" y="457.5" width="2" height="1.7" fill="#ffcdd2"/><rect x="265.5" y="457.5" width="2" height="1.5" fill="#ffcdd2"/><rect x="268.5" y="457.5" width="2" height="1.2" fill="#ffcdd2"/><rect x="271.5" y="457.5" width="2" height="0.7" fill="#ffcdd2"/><rect x="273.5" y="457.5" width="2" height="0.5" fill="#ffcdd2"/><rect x="276.5" y="457.5" width="2" height="0.9" fill="#ff5252"/><rect x="279.5" y="457.5" width="2" height="0.6" fill="#ffcdd2"/><rect x="282.5" y="457.4" width="2" height="0.5" fill="#26a69a"/><rect x="284.5" y="456.6" width="2" height="0.9" fill="#26a69a"/><rect x="287.5" y="456.0" width="2" height="1.5" fill="#26a69a"/><rect x="290.5" y="455.2" width="2" height="2.3" fill="#26a69a"/><rect x="292.5" y="454.6" width="2" height="2.9" fill="#26a69a"/><rect x="295.5" y="454.7" width="2" height="2.8" fill="#b2dfdb"/><rect x="298.5" y="455.9" width="2" height="1.6" fill="#b2dfdb"/><rect x="301.5" y="456.4" width="2" height="1.1" fill="#b2dfdb"/><rect x="303.5" y="456.2" width="2" height="1.3" fill="#26a69a"/><rect x="306.5" y="456.4" width="2" height="1.1" fill="#b2dfdb"/><rect x="309.5" y="457.5" width="2" height="1.3" fill="#ff5252"/><rect x="311.5" y="457.5" width="2" height="5.6" fill="#ff5252"/><rect x="314.5" y="457.5" width="2" height="8.0" fill="#ff5252"/><rect x="317.5" y="457.5" width="2" height="9.3" fill="#ff5252"/><rect x="320.5" y="457.5" width="2" height="11.1" fill="#ff5252"/><rect x="322.5" y="457.5" width="2" height="11.7" fill="#ff5252"/><rect x="325.5" y="457.5" width="2" height="11.3" fill="#ffcdd2"/><rect x="328.5" y="457.5" width="2" height="8.9" fill="#ffcdd2"/><rect x="330.5" y="457.5" width="2" height="8.2" fill="#ffcdd2"/><rect x="333.5" y="457.5" width="2" height="7.1" fill="#ffcdd2"/><rect x="336.5" y="457.5" width="2" height="6.8" fill="#ffcdd2"/><rect x="339.5" y="457.5" width="2" height="6.3" fill="#ffcdd2"/><rect x="341.5" y="457.5" width="2" height="4.8" fill="#ffcdd2"/><rect x="344.5" y="457.5" width="2" height="3.0" fill="#ffcdd2"/><rect x="347.5" y="457.5" width="2" height="1.1" fill="#ffcdd2"/><rect x="349.5" y="457.2" width="2" height="0.5" fill="#26a69a"/><rect x="352.5" y="456.7" width="2" height="0.8" fill="#26a69a"/><rect x="355.5" y="456.7" width="2" height="0.8" fill="#26a69a"/><rect x="358.5" y="456.6" width="2" height="0.9" fill="#26a69a"/><rect x="360.5" y="455.9" width="2" height="1.6" fill="#26a69a"/><rect x="363.5" y="455.2" width="2" height="2.3" fill="#26a69a"/><rect x="366.5" y="454.5" width="2" height="3.0" fill="#26a69a"/><rect x="368.5" y="453.7" width="2" height="3.8" fill="#26a69a"/><rect x="371.5" y="453.4" width="2" height="4.1" fill="#26a69a"/><rect x="374.5" y="453.3" width="2" height="4.2" fill="#26a69a"/><rect x="377.5" y="453.1" width="2" height="4.4" fill="#26a69a"/><rect x="379.5" y="453.7" width="2" height="3.8" fill="#b2dfdb"/><rect x="382.5" y="455.3" width="2" height="2.2" fill="#b2dfdb"/><rect x="385.5" y="456.3" width="2" height="1.2" fill="#b2dfdb"/><rect x="387.5" y="456.6" width="2" height="0.9" fill="#b2dfdb"/><rect x="390.5" y="456.7" width="2" height="0.8" fill="#b2dfdb"/><rect x="393.5" y="457.1" width="2" height="0.5" fill="#b2dfdb"/><rect x="396.5" y="457.2" width="2" height="0.5" fill="#b2dfdb"/><rect x="398.5" y="457.5" width="2" height="0.5" fill="#ff5252"/><rect x="401.5" y="457.3" width="2" height="0.5" fill="#26a69a"/><rect x="404.5" y="456.7" width="2" height="0.8" fill="#26a69a"/><rect x="406.5" y="456.1" width="2" height="1.4" fill="#26a69a"/><rect x="409.5" y="455.3" width="2" height="2.2" fill="#26a69a"/><rect x="412.5" y="454.7" width="2" height="2.8" fill="#26a69a"/><rect x="415.5" y="454.6" width="2" height="2.9" fill="#26a69a"/><rect x="417.5" y="454.5" width="2" height="3.0" fill="#26a69a"/><rect x="420.5" y="454.2" width="2" height="3.3" fill="#26a69a"/><rect x="423.5" y="453.8" width="2" height="3.7" fill="#26a69a"/><rect x="425.5" y="453.9" width="2" height="3.6" fill="#b2dfdb"/><rect x="428.5" y="454.4" width="2" height="3.1" fill="#b2dfdb"/><rect x="431.5" y="454.5" width="2" height="3.0" fill="#b2dfdb"/><rect x="434.5" y="455.2" width="2" height="2.3" fill="#b2dfdb"/><rect x="436.5" y="455.7" width="2" height="1.8" fill="#b2dfdb"/><rect x="439.5" y="455.8" width="2" height="1.7" fill="#b2dfdb"/><rect x="442.5" y="455.6" width="2" height="1.9" fill="#26a69a"/><rect x="444.5" y="455.4" width="2" height="2.1" fill="#26a69a"/><rect x="447.5" y="455.9" width="2" height="1.6" fill="#b2dfdb"/><rect x="450.5" y="456.2" width="2" height="1.3" fill="#b2dfdb"/><rect x="453.5" y="455.1" width="2" height="2.4" fill="#26a69a"/><rect x="455.5" y="454.4" width="2" height="3.1" fill="#26a69a"/><rect x="458.5" y="455.2" width="2" height="2.3" fill="#b2dfdb"/><rect x="461.5" y="455.4" width="2" height="2.1" fill="#b2dfdb"/><rect x="463.5" y="455.8" width="2" height="1.7" fill="#b2dfdb"/><rect x="466.5" y="455.0" width="2" height="2.5" fill="#26a69a"/><rect x="469.5" y="454.9" width="2" height="2.6" fill="#26a69a"/><rect x="472.5" y="455.5" width="2" height="2.0" fill="#b2dfdb"/><rect x="474.5" y="455.6" width="2" height="1.9" fill="#b2dfdb"/><rect x="477.5" y="455.6" width="2" height="1.9" fill="#b2dfdb"/><rect x="480.5" y="455.2" width="2" height="2.3" fill="#26a69a"/><rect x="482.5" y="454.5" width="2" height="3.0" fill="#26a69a"/><rect x="485.5" y="454.0" width="2" height="3.5" fill="#26a69a"/><rect x="488.5" y="453.4" width="2" height="4.1" fill="#26a69a"/><rect x="491.5" y="453.9" width="2" height="3.6" fill="#b2dfdb"/><rect x="493.5" y="453.9" width="2" height="3.6" fill="#b2dfdb"/><rect x="496.5" y="454.9" width="2" height="2.6" fill="#b2dfdb"/><rect x="499.5" y="456.1" width="2" height="1.4" fill="#b2dfdb"/><rect x="501.5" y="457.5" width="2" height="0.5" fill="#ff5252"/><rect x="504.5" y="457.5" width="2" height="0.9" fill="#ff5252"/><rect x="507.5" y="457.5" width="2" height="0.5" fill="#ffcdd2"/><rect x="510.5" y="456.9" width="2" height="0.6" fill="#26a69a"/><rect x="512.5" y="457.5" width="2" height="0.5" fill="#ff5252"/><rect x="515.5" y="457.5" width="2" height="1.0" fill="#ff5252"/><rect x="518.5" y="457.5" width="2" height="2.0" fill="#ff5252"/><rect x="520.5" y="457.5" width="2" height="1.8" fill="#ffcdd2"/><rect x="523.5" y="457.5" width="2" height="0.9" fill="#ffcdd2"/><rect x="526.5" y="457.5" width="2" height="0.5" fill="#ffcdd2"/><rect x="529.5" y="457.5" width="2" height="0.5" fill="#ffcdd2"/><rect x="531.5" y="457.5" width="2" height="0.5" fill="#ff5252"/><rect x="534.5" y="457.3" width="2" height="0.5" fill="#26a69a"/><rect x="537.5" y="456.5" width="2" height="1.0" fill="#26a69a"/><rect x="539.5" y="456.3" width="2" height="1.2" fill="#26a69a"/><rect x="542.5" y="454.8" width="2" height="2.7" fill="#26a69a"/><rect x="545.5" y="453.3" width="2" height="4.2" fill="#26a69a"/><rect x="548.5" y="452.4" width="2" height="5.1" fill="#26a69a"/><rect x="550.5" y="453.7" width="2" height="3.8" fill="#b2dfdb"/><rect x="553.5" y="454.1" width="2" height="3.4" fill="#b2dfdb"/><rect x="556.5" y="455.2" width="2" height="2.3" fill="#b2dfdb"/><rect x="558.5" y="456.2" width="2" height="1.3" fill="#b2dfdb"/><rect x="561.5" y="456.3" width="2" height="1.2" fill="#b2dfdb"/><rect x="564.5" y="457.5" width="2" height="0.5" fill="#ff5252"/><rect x="567.5" y="457.5" width="2" height="3.3" fill="#ff5252"/><rect x="569.5" y="457.5" width="2" height="1.9" fill="#ffcdd2"/><rect x="572.5" y="457.5" width="2" height="3.3" fill="#ff5252"/><rect x="575.5" y="457.5" width="2" height="2.8" fill="#ffcdd2"/><rect x="577.5" y="456.8" width="2" height="0.7" fill="#26a69a"/><rect x="580.5" y="453.3" width="2" height="4.2" fill="#26a69a"/><rect x="583.5" y="450.2" width="2" height="7.3" fill="#26a69a"/><rect x="586.5" y="450.0" width="2" height="7.5" fill="#26a69a"/><rect x="588.5" y="450.9" width="2" height="6.6" fill="#b2dfdb"/><rect x="591.5" y="454.5" width="2" height="3.0" fill="#b2dfdb"/><rect x="594.5" y="456.3" width="2" height="1.2" fill="#b2dfdb"/><rect x="597.5" y="457.5" width="2" height="0.6" fill="#ff5252"/><rect x="599.5" y="457.5" width="2" height="1.8" fill="#ff5252"/><rect x="602.5" y="457.5" width="2" height="3.3" fill="#ff5252"/><rect x="605.5" y="457.5" width="2" height="2.9" fill="#ffcdd2"/><rect x="607.5" y="457.5" width="2" height="2.6" fill="#ffcdd2"/><rect x="610.5" y="457.5" width="2" height="2.0" fill="#ffcdd2"/><rect x="613.5" y="457.5" width="2" height="1.5" fill="#ffcdd2"/><rect x="616.5" y="457.5" width="2" height="2.3" fill="#ff5252"/><rect x="618.5" y="457.5" width="2" height="2.7" fill="#ff5252"/><rect x="621.5" y="457.5" width="2" height="2.3" fill="#ffcdd2"/><rect x="624.5" y="457.5" width="2" height="2.1" fill="#ffcdd2"/><rect x="626.5" y="457.5" width="2" height="2.3" fill="#ff5252"/><rect x="629.5" y="457.5" width="2" height="1.5" fill="#ffcdd2"/><rect x="632.5" y="457.5" width="2" height="1.2" fill="#ffcdd2"/><rect x="635.5" y="457.5" width="2" height="0.8" fill="#ffcdd2"/><rect x="637.5" y="457.5" width="2" height="1.2" fill="#ff5252"/><rect x="640.5" y="457.5" width="2" height="1.0" fill="#ffcdd2"/><rect x="643.5" y="457.5" width="2" height="1.2" fill="#ff5252"/><rect x="645.5" y="457.5" width="2" height="1.9" fill="#ff5252"/><rect x="648.5" y="457.5" width="2" height="3.0" fill="#ff5252"/><rect x="651.5" y="457.5" width="2" height="4.0" fill="#ff5252"/></g><polyline points="8.5,416.1 11.2,418.7 13.9,420.2 16.6,423.3 19.3,427.4 22.0,438.2 24.7,447.4 27.5,456.3 30.2,463.6 32.9,470.1 35.6,476.9 38.3,481.4 41.0,485.1 43.7,487.1 46.5,486.9 49.2,487.7 51.9,485.9 54.6,485.0 57.3,484.4 60.0,483.1 62.7,482.9 65.5,480.1 68.2,478.3 70.9,478.4 73.6,477.8 76.3,478.0 79.0,478.1 81.7,478.8 84.5,478.7 87.2,477.9 89.9,477.9 92.6,476.5 95.3,476.3 98.0,475.7 100.7,474.8 103.5,474.8 106.2,474.1 108.9,472.7 111.6,472.6 114.3,472.5 117.0,471.4 119.7,469.4 122.5,467.3 125.2,466.6 127.9,466.2 130.6,465.9 133.3,464.8 136.0,463.1 138.8,462.2 141.5,460.9 144.2,457.9 146.9,455.4 149.6,454.4 152.3,451.7 155.0,449.3 157.8,448.3 160.5,447.6 163.2,447.5 165.9,447.0 168.6,446.3 171.3,445.7 174.0,445.2 176.8,444.8 179.5,440.2 182.2,439.0 184.9,434.9 187.6,430.9 190.3,430.8 193.0,431.8 195.8,434.3 198.5,436.5 201.2,439.0 203.9,440.9 206.6,443.3 209.3,446.3 212.0,449.7 214.8,450.9 217.5,451.4 220.2,450.9 222.9,450.6 225.6,449.6 228.3,449.3 231.0,449.7 233.8,451.2 236.5,450.4 239.2,449.4 241.9,448.4 244.6,447.5 247.3,448.1 250.0,449.3 252.8,450.3 255.5,451.9 258.2,452.4 260.9,452.8 263.6,452.8 266.3,453.1 269.0,453.1 271.8,452.7 274.5,452.2 277.2,453.1 279.9,453.0 282.6,452.3 285.3,451.3 288.0,450.3 290.8,448.9 293.5,447.5 296.2,447.0 298.9,447.8 301.6,448.0 304.3,447.4 307.1,447.3 309.8,450.1 312.5,455.8 315.2,460.1 317.9,463.8 320.6,468.4 323.3,471.9 326.1,474.4 328.8,474.2 331.5,475.5 334.2,476.2 336.9,477.5 339.6,478.7 342.3,478.4 345.1,477.3 347.8,475.7 350.5,474.2 353.2,473.5 355.9,473.2 358.6,472.9 361.3,471.9 364.1,470.6 366.8,469.1 369.5,467.4 372.2,466.0 374.9,465.0 377.6,463.6 380.3,463.3 383.1,464.3 385.8,465.0 388.5,465.0 391.2,465.0 393.9,465.3 396.6,465.4 399.3,465.7 402.1,465.4 404.8,464.6 407.5,463.7 410.2,462.3 412.9,461.0 415.6,460.1 418.3,459.3 421.1,458.2 423.8,456.9 426.5,456.0 429.2,455.8 431.9,455.1 434.6,455.3 437.3,455.3 440.1,454.9 442.8,454.3 445.5,453.6 448.2,453.7 450.9,453.6 453.6,452.0 456.3,450.5 459.1,450.7 461.8,450.3 464.5,450.3 467.2,448.9 469.9,448.2 472.6,448.3 475.3,447.9 478.1,447.4 480.8,446.5 483.5,445.0 486.2,443.7 488.9,442.0 491.6,441.6 494.4,440.8 497.1,441.1 499.8,441.9 502.5,444.0 505.2,444.6 507.9,443.7 510.6,442.9 513.4,443.5 516.1,444.8 518.8,446.2 521.5,446.5 524.2,445.9 526.9,445.3 529.6,445.3 532.4,445.7 535.1,445.0 537.8,443.9 540.5,443.4 543.2,441.2 545.9,438.7 548.6,436.5 551.4,436.8 554.1,436.4 556.8,437.0 559.5,437.7 562.2,437.5 564.9,438.9 567.6,442.9 570.4,441.9 573.1,444.1 575.8,444.4 578.5,440.6 581.2,436.0 583.9,431.2 586.6,429.1 589.4,428.4 592.1,431.2 594.8,432.7 597.5,434.6 600.2,436.3 602.9,438.6 605.6,439.0 608.4,439.3 611.1,439.2 613.8,439.0 616.5,440.5 619.2,441.5 621.9,441.7 624.6,442.0 627.4,442.8 630.1,442.4 632.8,442.4 635.5,442.1 638.2,442.8 640.9,442.9 643.6,443.4 646.4,444.6 649.1,446.5 651.8,448.4" fill="none" stroke="#2962ff" stroke-width="1" stroke-linejoin="round"/><polyline points="8.5,420.6 11.2,420.2 13.9,420.2 16.6,420.8 19.3,422.1 22.0,425.3 24.7,429.8 27.5,435.1 30.2,440.8 32.9,446.6 35.6,452.7 38.3,458.4 41.0,463.8 43.7,468.4 46.5,472.1 49.2,475.2 51.9,477.4 54.6,478.9 57.3,480.0 60.0,480.6 62.7,481.1 65.5,480.9 68.2,480.4 70.9,480.0 73.6,479.5 76.3,479.2 79.0,479.0 81.7,479.0 84.5,478.9 87.2,478.7 89.9,478.6 92.6,478.1 95.3,477.8 98.0,477.4 100.7,476.8 103.5,476.4 106.2,476.0 108.9,475.3 111.6,474.8 114.3,474.3 117.0,473.7 119.7,472.9 122.5,471.7 125.2,470.7 127.9,469.8 130.6,469.0 133.3,468.2 136.0,467.2 138.8,466.2 141.5,465.1 144.2,463.7 146.9,462.0 149.6,460.5 152.3,458.7 155.0,456.9 157.8,455.1 160.5,453.6 163.2,452.4 165.9,451.3 168.6,450.3 171.3,449.4 174.0,448.6 176.8,447.8 179.5,446.3 182.2,444.8 184.9,442.8 187.6,440.5 190.3,438.5 193.0,437.2 195.8,436.6 198.5,436.6 201.2,437.1 203.9,437.8 206.6,438.9 209.3,440.4 212.0,442.3 214.8,444.0 217.5,445.5 220.2,446.6 222.9,447.4 225.6,447.8 228.3,448.1 231.0,448.4 233.8,449.0 236.5,449.3 239.2,449.3 241.9,449.1 244.6,448.8 247.3,448.7 250.0,448.8 252.8,449.1 255.5,449.6 258.2,450.2 260.9,450.7 263.6,451.1 266.3,451.5 269.0,451.8 271.8,452.0 274.5,452.0 277.2,452.3 279.9,452.4 282.6,452.4 285.3,452.2 288.0,451.8 290.8,451.2 293.5,450.5 296.2,449.8 298.9,449.4 301.6,449.1 304.3,448.8 307.1,448.5 309.8,448.8 312.5,450.2 315.2,452.2 317.9,454.5 320.6,457.3 323.3,460.2 326.1,463.0 328.8,465.3 331.5,467.3 334.2,469.1 336.9,470.8 339.6,472.4 342.3,473.6 345.1,474.3 347.8,474.6 350.5,474.5 353.2,474.3 355.9,474.1 358.6,473.9 361.3,473.5 364.1,472.9 366.8,472.1 369.5,471.2 372.2,470.2 374.9,469.1 377.6,468.0 380.3,467.1 383.1,466.5 385.8,466.2 388.5,466.0 391.2,465.8 393.9,465.7 396.6,465.6 399.3,465.6 402.1,465.6 404.8,465.4 407.5,465.0 410.2,464.5 412.9,463.8 415.6,463.1 418.3,462.3 421.1,461.5 423.8,460.6 426.5,459.7 429.2,458.9 431.9,458.1 434.6,457.6 437.3,457.1 440.1,456.7 442.8,456.2 445.5,455.7 448.2,455.3 450.9,454.9 453.6,454.4 456.3,453.6 459.1,453.0 461.8,452.5 464.5,452.0 467.2,451.4 469.9,450.8 472.6,450.3 475.3,449.8 478.1,449.3 480.8,448.8 483.5,448.0 486.2,447.1 488.9,446.1 491.6,445.2 494.4,444.3 497.1,443.7 499.8,443.3 502.5,443.5 505.2,443.7 507.9,443.7 510.6,443.5 513.4,443.5 516.1,443.8 518.8,444.3 521.5,444.7 524.2,444.9 526.9,445.0 529.6,445.1 532.4,445.2 535.1,445.2 537.8,444.9 540.5,444.6 543.2,443.9 545.9,442.9 548.6,441.6 551.4,440.6 554.1,439.8 556.8,439.2 559.5,438.9 562.2,438.6 564.9,438.7 567.6,439.5 570.4,440.0 573.1,440.8 575.8,441.5 578.5,441.3 581.2,440.3 583.9,438.5 586.6,436.6 589.4,435.0 592.1,434.2 594.8,433.9 597.5,434.0 600.2,434.5 602.9,435.3 605.6,436.0 608.4,436.7 611.1,437.2 613.8,437.6 616.5,438.1 619.2,438.8 621.9,439.4 624.6,439.9 627.4,440.5 630.1,440.9 632.8,441.2 635.5,441.4 638.2,441.7 640.9,441.9 643.6,442.2 646.4,442.7 649.1,443.5 651.8,444.4" fill="none" stroke="#ff6d00" stroke-width="1" stroke-linejoin="round"/><g font-family='"Liberation Sans", Arial, sans-serif'><text x="7.25" y="14.7" font-size="9.4" fill="#131722" stroke="#131722" stroke-width="0.14" font-weight="normal" textLength="320.20" lengthAdjust="spacingAndGlyphs">ParshwaTurakhiya28 created with TradingView.com, Jan 03, 2026 05:47 UTC</text><text x="13.35" y="34.8" font-size="9.4" fill="#131722" stroke="#131722" stroke-width="0.14" font-weight="normal" textLength="145.50" lengthAdjust="spacingAndGlyphs">Bitcoin / U.S. Dollar · 30 · Coinbase</text><text x="163.55" y="34.8" font-size="9.4" fill="#131722" stroke="#131722" stroke-width="0.14" font-weight="normal" textLength="6.50" lengthAdjust="spacingAndGlyphs">O</text><text x="169.65" y="34.8" font-size="9.4" fill="#f23645" stroke="#f23645" stroke-width="0.05" font-weight="normal" textLength="44.10" lengthAdjust="spacingAndGlyphs">89,989.40</text><text x="218.75" y="34.8" font-size="9.4" fill="#131722" stroke="#131722" stroke-width="0.14" font-weight="normal" textLength="6.10" lengthAdjust="spacingAndGlyphs">H</text><text x="224.85" y="34.8" font-size="9.4" fill="#f23645" stroke="#f23645" stroke-width="0.05" font-weight="normal" textLength="43.20" lengthAdjust="spacingAndGlyphs">90,029.59</text><text x="273.05" y="34.8" font-size="9.4" fill="#131722" stroke="#131722" stroke-width="0.14" font-weight="normal" textLength="5.00" lengthAdjust="spacingAndGlyphs">L</text><text x="277.95" y="34.8" font-size="9.4" fill="#f23645" stroke="#f23645" stroke-width="0.05" font-weight="normal" textLength="43.80" lengthAdjust="spacingAndGlyphs">89,884.98</text><text x="326.55" y="34.8" font-size="9.4" fill="#131722" stroke="#131722" stroke-width="0.14" font-weight="normal" textLength="6.30" lengthAdjust="spacingAndGlyphs">C</text><text x="332.55" y="34.8" font-size="9.4" fill="#f23645" stroke="#f23645" stroke-width="0.05" font-weight="normal" textLength="43.50" lengthAdjust="spacingAndGlyphs">89,928.98</text><text x="381.15" y="34.8" font-size="9.4" fill="#f23645" stroke="#f23645" stroke-width="0.05" font-weight="normal" textLength="70.50" lengthAdjust="spacingAndGlyphs">−60.43 (−0.07%)</text><rect x="797" y="23.5" width="52.5" height="17" rx="2" fill="#fff" stroke="#f0f1f4"/><text x="803.15" y="35.4" font-size="9.4" fill="#131722" stroke="#131722" stroke-width="0.14" font-weight="normal" textLength="18.40" lengthAdjust="spacingAndGlyphs">USD</text><text x="800.25" y="294.17" font-size="9.4" fill="#131722" stroke="#131722" stroke-width="0.14" font-weight="normal" textLength="44.50" lengthAdjust="spacingAndGlyphs">86,000.00</text><text x="800.25" y="254.69" font-size="9.4" fill="#131722" stroke="#131722" stroke-width="0.14" font-weight="normal" textLength="44.50" lengthAdjust="spacingAndGlyphs">87,000.00</text><text x="800.25" y="215.21" font-size="9.4" fill="#131722" stroke="#131722" stroke-width="0.14" font-weight="normal" textLength="44.50" lengthAdjust="spacingAndGlyphs">88,000.00</text><text x="800.25" y="175.73" font-size="9.4" fill="#131722" stroke="#131722" stroke-width="0.14" font-weight="normal" textLength="44.50" lengthAdjust="spacingAndGlyphs">89,000.00</text><text x="800.25" y="136.25" font-size="9.4" fill="#131722" stroke="#131722" stroke-width="0.14" font-weight="normal" textLength="44.50" lengthAdjust="spacingAndGlyphs">90,000.00</text><text x="800.25" y="96.77" font-size="9.4" fill="#131722" stroke="#131722" stroke-width="0.14" font-weight="normal" textLength="44.50" lengthAdjust="spacingAndGlyphs">91,000.00</text><text x="800.25" y="57.29" font-size="9.4" fill="#131722" stroke="#131722" stroke-width="0.14" font-weight="normal" textLength="44.50" lengthAdjust="spacingAndGlyphs">92,000.00</text><rect x="752" y="130.2" width="41.7" height="11.8" fill="#f23645"/><rect x="794.6" y="130.2" width="34.7" height="11.8" fill="#f23645"/><text x="754.45" y="139.2" font-size="9.4" fill="#fff" stroke="#fff" stroke-width="0.05" font-weight="normal" textLength="36.20" lengthAdjust="spacingAndGlyphs">BTCUSD</text><text x="801.15" y="139.2" font-size="9.4" fill="#fff" stroke="#fff" stroke-width="0.05" font-weight="normal" textLength="24.00" lengthAdjust="spacingAndGlyphs">12:09</text><text x="13.25" y="335.8" font-size="9.4" fill="#131722" stroke="#131722" stroke-width="0.14" font-weight="normal" textLength="59.40" lengthAdjust="spacingAndGlyphs">RSI (14, close)</text><text x="77.35" y="335.8" font-size="9.4" fill="#7e57c2" stroke="#7e57c2" stroke-width="0.05" font-weight="normal" textLength="25.10" lengthAdjust="spacingAndGlyphs">48.99</text><text x="106.15" y="335.8" font-size="9.4" fill="#f3cf5a" stroke="#f3cf5a" stroke-width="0.05" font-weight="normal" textLength="25.50" lengthAdjust="spacingAndGlyphs">56.39</text><text x="800.15" y="333.3" font-size="9.4" fill="#131722" stroke="#131722" stroke-width="0.14" font-weight="normal" textLength="25.10" lengthAdjust="spacingAndGlyphs">80.00</text><text x="800.15" y="385.7" font-size="9.4" fill="#131722" stroke="#131722" stroke-width="0.14" font-weight="normal" textLength="25.10" lengthAdjust="spacingAndGlyphs">40.00</text><rect x="794.4" y="352" width="34.4" height="12.3" fill="#f9d02f"/><rect x="794.4" y="364.3" width="34.4" height="12.3" fill="#7e57c2"/><text x="800.35" y="361.2" font-size="9.4" fill="#131722" stroke="#131722" stroke-width="0.14" font-weight="normal" textLength="25.00" lengthAdjust="spacingAndGlyphs">56.39</text><text x="800.35" y="373.5" font-size="9.4" fill="#fff" stroke="#fff" stroke-width="0.05" font-weight="normal" textLength="25.00" lengthAdjust="spacingAndGlyphs">48.99</text><text x="13.55" y="423.2" font-size="9.4" fill="#131722" stroke="#131722" stroke-width="0.14" font-weight="normal" textLength="97.30" lengthAdjust="spacingAndGlyphs">MACD (close, 12, 26, 9)</text><text x="115.85" y="423.2" font-size="9.4" fill="#f23645" stroke="#f23645" stroke-width="0.05" font-weight="normal" textLength="30.30" lengthAdjust="spacingAndGlyphs">−52.56</text><text x="150.65" y="423.2" font-size="9.4" fill="#2962ff" stroke="#2962ff" stroke-width="0.05" font-weight="normal" textLength="27.10" lengthAdjust="spacingAndGlyphs">118.42</text><text x="182.75" y="423.2" font-size="9.4" fill="#ff6d00" stroke="#ff6d00" stroke-width="0.05" font-weight="normal" textLength="28.20" lengthAdjust="spacingAndGlyphs">170.98</text><text x="800.15" y="431.5" font-size="9.4" fill="#131722" stroke="#131722" stroke-width="0.14" font-weight="normal" textLength="30.30" lengthAdjust="spacingAndGlyphs">400.00</text><text x="800.15" y="491.3" font-size="9.4" fill="#131722" stroke="#131722" stroke-width="0.14" font-weight="normal" textLength="36.30" lengthAdjust="spacingAndGlyphs">−400.00</text><rect x="794.5" y="430.2" width="40.5" height="12.1" fill="#ff6d00"/><rect x="794.5" y="442.3" width="40.5" height="12.5" fill="#2962ff"/><rect x="794.5" y="455.7" width="40.5" height="12.1" fill="#ff5252"/><text x="800.65" y="439.5" font-size="9.4" fill="#fff" stroke="#fff" stroke-width="0.05" font-weight="normal" textLength="30.40" lengthAdjust="spacingAndGlyphs">170.98</text><text x="800.65" y="452" font-size="9.4" fill="#fff" stroke="#fff" stroke-width="0.05" font-weight="normal" textLength="30.40" lengthAdjust="spacingAndGlyphs">118.42</text><text x="800.65" y="464.6" font-size="9.4" fill="#fff" stroke="#fff" stroke-width="0.05" font-weight="normal" textLength="30.40" lengthAdjust="spacingAndGlyphs">−52.56</text><text x="23.15" y="509.3" font-size="9.4" fill="#131722" stroke="#131722" stroke-width="0.14" font-weight="normal" textLength="24.70" lengthAdjust="spacingAndGlyphs">12:00</text><text x="94.25" y="509.3" font-size="9.4" fill="#131722" stroke="#131722" stroke-width="0.14" font-weight="normal" textLength="11.10" lengthAdjust="spacingAndGlyphs">30</text><text x="153.15" y="509.3" font-size="9.4" fill="#131722" stroke="#131722" stroke-width="0.14" font-weight="normal" textLength="24.70" lengthAdjust="spacingAndGlyphs">12:00</text><text x="224.25" y="509.3" font-size="9.4" fill="#131722" stroke="#131722" stroke-width="0.14" font-weight="normal" textLength="11.10" lengthAdjust="spacingAndGlyphs">31</text><text x="283.45" y="509.3" font-size="9.4" fill="#131722" stroke="#131722" stroke-width="0.14" font-weight="normal" textLength="24.70" lengthAdjust="spacingAndGlyphs">12:00</text><text x="349.95" y="509.3" font-size="9.4" fill="#131722" stroke="#131722" stroke-width="0.14" font-weight="bold" textLength="23.90" lengthAdjust="spacingAndGlyphs">2026</text><text x="413.65" y="509.3" font-size="9.4" fill="#131722" stroke="#131722" stroke-width="0.14" font-weight="normal" textLength="24.70" lengthAdjust="spacingAndGlyphs">12:00</text><text x="488.95" y="509.3" font-size="9.4" fill="#131722" stroke="#131722" stroke-width="0.14" font-weight="normal" textLength="5.90" lengthAdjust="spacingAndGlyphs">2</text><text x="544.95" y="509.3" font-size="9.4" fill="#131722" stroke="#131722" stroke-width="0.14" font-weight="normal" textLength="24.70" lengthAdjust="spacingAndGlyphs">12:00</text><text x="619.25" y="509.3" font-size="9.4" fill="#131722" stroke="#131722" stroke-width="0.14" font-weight="normal" textLength="5.90" lengthAdjust="spacingAndGlyphs">3</text><text x="675.05" y="509.3" font-size="9.4" fill="#131722" stroke="#131722" stroke-width="0.14" font-weight="normal" textLength="24.70" lengthAdjust="spacingAndGlyphs">12:00</text><text x="749.75" y="509.3" font-size="9.4" fill="#131722" stroke="#131722" stroke-width="0.14" font-weight="normal" textLength="6.30" lengthAdjust="spacingAndGlyphs">4</text></g><g fill="#131722"><path d="M8.9 532h8.4v10.7h-4.3v-6.95h-4.1z"/><circle cx="21.1" cy="534.1" r="2"/><path d="M25.7 532h5l-3.9 10.7h-5z"/></g><text x="36.4" y="542.7" font-family='"Liberation Sans", Arial, sans-serif' font-size="14.4" font-weight="bold" fill="#131722" textLength="89" lengthAdjust="spacingAndGlyphs">TradingView</text></svg>
</body></html>
